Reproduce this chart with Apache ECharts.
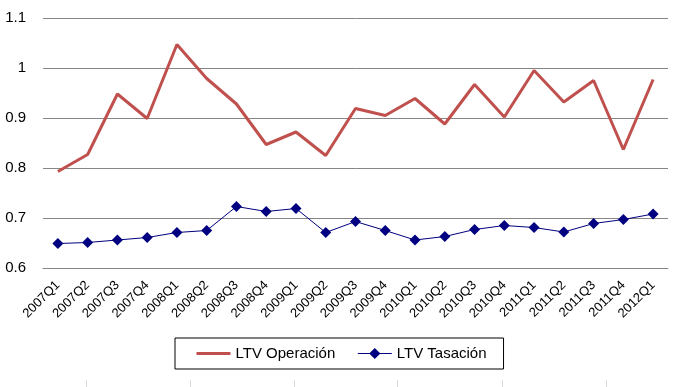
<!DOCTYPE html>
<html>
<head>
<meta charset="utf-8">
<script src="https://cdn.jsdelivr.net/npm/echarts@6/dist/echarts.min.js"></script>
<style>
html,body{margin:0;padding:0;background:#fff;}
#c{width:680px;height:387px;}
</style>
</head>
<body>
<div id="c"></div>
<script>
var categories = ['2007Q1','2007Q2','2007Q3','2007Q4','2008Q1','2008Q2','2008Q3','2008Q4','2009Q1','2009Q2','2009Q3','2009Q4','2010Q1','2010Q2','2010Q3','2010Q4','2011Q1','2011Q2','2011Q3','2011Q4','2012Q1'];
var ltvOperacion = [0.793,0.827,0.948,0.899,1.047,0.979,0.928,0.847,0.872,0.825,0.919,0.905,0.939,0.888,0.967,0.902,0.995,0.932,0.975,0.837,0.977];
var ltvTasacion = [0.649,0.651,0.656,0.661,0.671,0.675,0.723,0.713,0.719,0.671,0.693,0.675,0.656,0.663,0.677,0.685,0.681,0.672,0.689,0.697,0.708];
var seriesNames = ['LTV Operación','LTV Tasación'];
var yTicks = {min:0.6, max:1.1, interval:0.1};

var font = '"Liberation Sans", Arial, sans-serif';
var chart = echarts.init(document.getElementById('c'), null, {renderer:'canvas'});
var tickXs = [86,190,294,397,502,606];
var graphics = tickXs.map(function(x){
  return {type:'line', shape:{x1:x+0.5,y1:380,x2:x+0.5,y2:387}, style:{stroke:'#d9d9d9',lineWidth:1}, silent:true};
});
chart.setOption({
  animation:false,
  backgroundColor:'#fff',
  textStyle:{fontFamily:font},
  grid:{left:43,right:12,top:18,bottom:119,containLabel:false},
  xAxis:{
    type:'category',
    data:categories,
    boundaryGap:true,
    axisLine:{show:true,lineStyle:{color:'#868686',width:1}},
    axisTick:{show:false},
    axisLabel:{rotate:45,fontSize:13,color:'#000',margin:15,fontFamily:font,interval:0}
  },
  yAxis:{
    type:'value',
    min:yTicks.min,max:yTicks.max,interval:yTicks.interval,
    axisLine:{show:false},
    axisTick:{show:false},
    axisLabel:{fontSize:15,color:'#000',margin:17,fontFamily:font,formatter:function(v){return String(Math.round(v*10)/10);}},
    splitLine:{show:true,lineStyle:{color:'#868686',width:1}}
  },
  legend:{
    left:175,top:338,
    orient:'horizontal',
    borderColor:'#000',borderWidth:1,
    padding:[8,17,8,20],
    itemGap:22,
    itemWidth:34,itemHeight:14,
    textStyle:{fontSize:15,color:'#000',fontFamily:font},
    data:[
      {name:seriesNames[0],itemStyle:{opacity:0},lineStyle:{width:3}},
      {name:seriesNames[1],lineStyle:{width:1}}
    ]
  },
  series:[
    {
      name:seriesNames[0],type:'line',data:ltvOperacion,
      symbol:'none',
      lineStyle:{color:'#C0504D',width:3},
      itemStyle:{color:'#C0504D'}
    },
    {
      name:seriesNames[1],type:'line',data:ltvTasacion,
      symbol:'diamond',symbolSize:11,
      lineStyle:{color:'#000080',width:1},
      itemStyle:{color:'#000080'}
    }
  ],
  graphic:graphics
});
</script>
</body>
</html>
